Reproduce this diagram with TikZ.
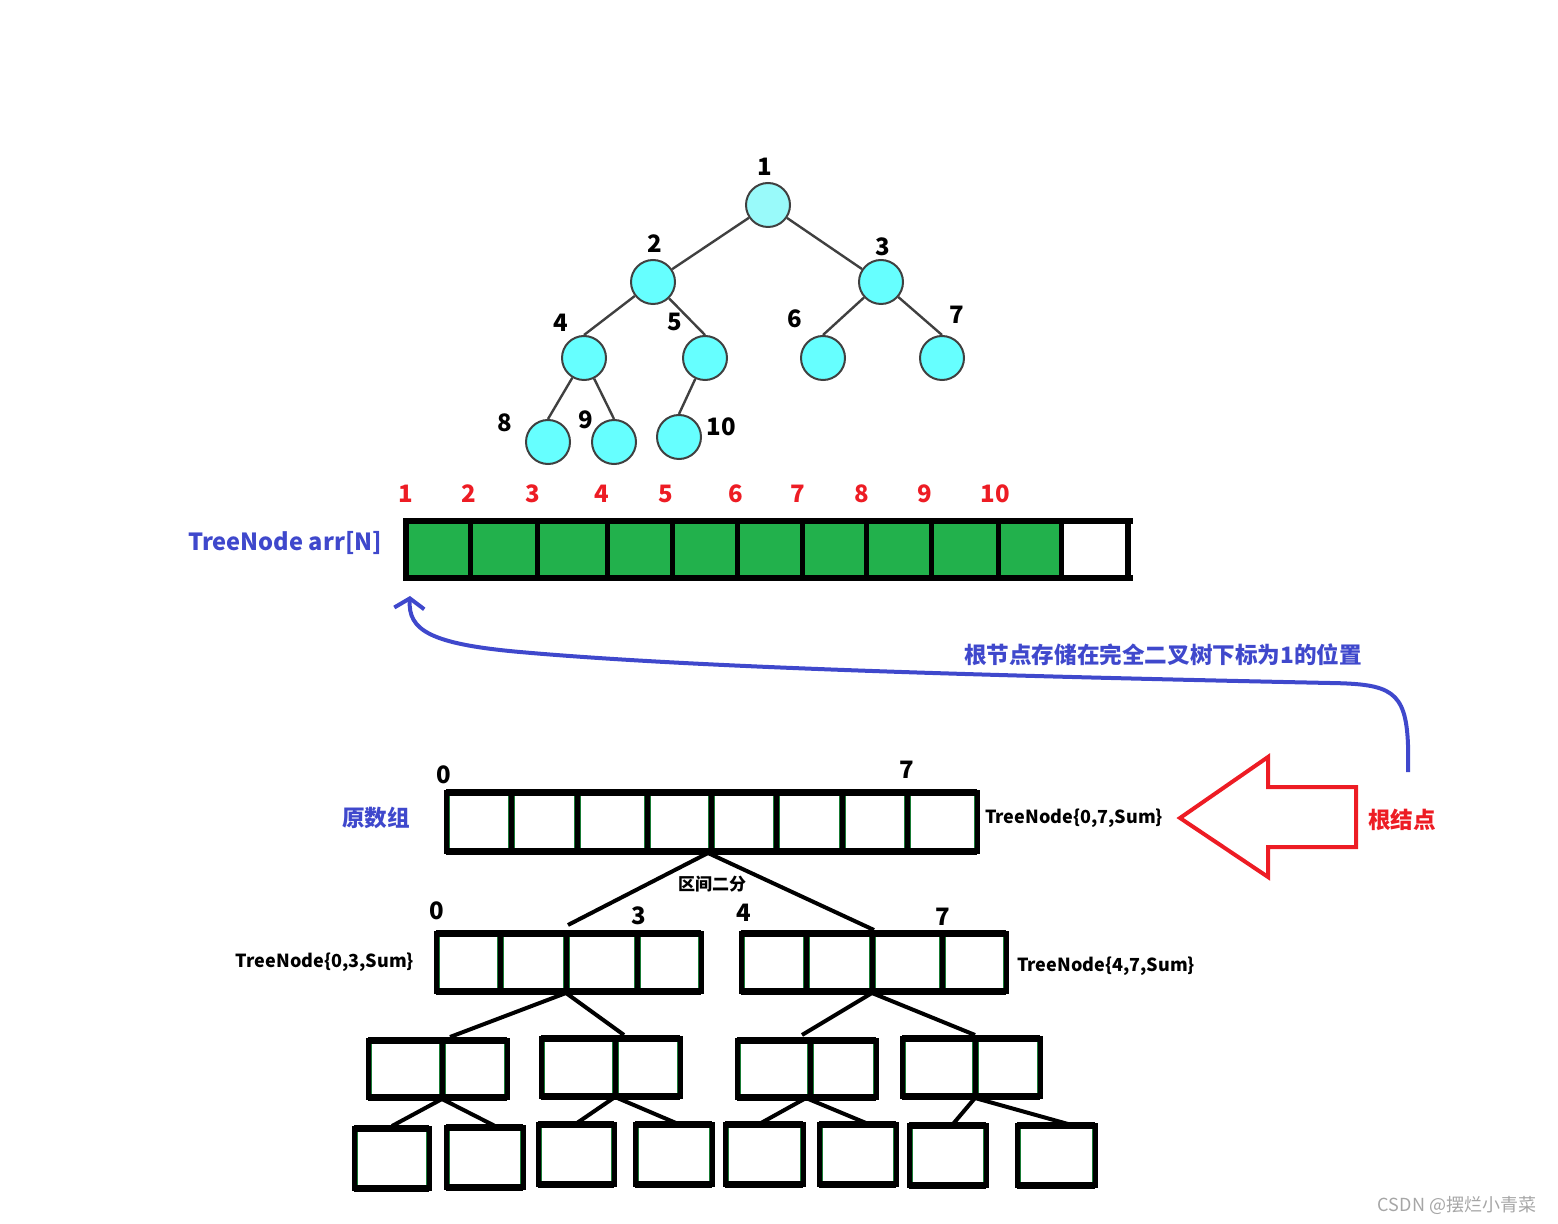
\documentclass[tikz,border=0pt]{standalone}
\usepackage{fontspec}
\setmainfont{Noto Sans CJK SC}
\usetikzlibrary{arrows.meta}
\definecolor{nodecyan}{HTML}{66FFFF}
\definecolor{rootcyan}{HTML}{99FAFA}
\definecolor{cellgreen}{HTML}{22B14C}
\definecolor{idxred}{HTML}{ED1C24}
\definecolor{lblblue}{HTML}{3F48CC}
\definecolor{edgegray}{HTML}{404040}
\tikzset{
	treenode/.style={circle, draw=edgegray, line width=1pt, fill=nodecyan, minimum size=22pt, inner sep=0pt},
	treeedge/.style={draw=edgegray, line width=1.2pt},
	numlbl/.style={font=\bfseries\fontsize{12}{14}\selectfont, inner sep=0pt},
	idx/.style={numlbl, text=idxred},
	bluelbl/.style={font=\bfseries\fontsize{11.3}{13}\selectfont, text=lblblue, inner sep=0pt},
	sumlbl/.style={font=\bfseries\fontsize{9}{11}\selectfont, inner sep=0pt},
	cellline/.style={line width=2.5pt},
	cellinner/.style={draw=cellgreen!70!black, line width=0.5pt},
	splitline/.style={line width=2pt},
}
\begin{document}
\begin{tikzpicture}[x=0.5pt,y=-0.5pt]
	\useasboundingbox (0,0) rectangle (1558,1224);
	% complete binary tree
	\node[treenode, fill=rootcyan] (n1) at (768,205) {};
	\node[treenode] (n2) at (653,282) {};
	\node[treenode] (n3) at (881,282) {};
	\node[treenode] (n4) at (584,358) {};
	\node[treenode] (n5) at (705,358) {};
	\node[treenode] (n6) at (823,358) {};
	\node[treenode] (n7) at (942,358) {};
	\node[treenode] (n8) at (548,442) {};
	\node[treenode] (n9) at (614,442) {};
	\node[treenode] (n10) at (679,437) {};
	\draw[treeedge] (n1) -- (n2);
	\draw[treeedge] (n1) -- (n3);
	\foreach \p/\c in {2/4,2/5,3/6,3/7,4/8,4/9,5/10}
		\draw[treeedge] (n\p) -- (n\c.north);
	\foreach \i/\x/\y in {1/765/167,2/655/244,3/883/247,4/561/323,5/675/322,6/795/319,7/957/315,8/505/423,9/586/420,10/721/427}
		\node[numlbl] (t\i) at (\x,\y) {\i};
	% array storage
	\foreach \a/\b in {406/470,470/537,537/607,607/672,672/737,737/802,802/866,866/931,931/998,998/1061}
		\fill[cellgreen] (\a,521) rectangle (\b,578);
	\draw[line width=3pt] (406,521) rectangle (1128,578);
	\draw[line width=3pt] (1128,521) -- (1133,521) (1128,578) -- (1133,578);
	\foreach \x in {470,537,607,672,737,802,866,931,998,1061}
		\draw[cellline] (\x,521) -- (\x,578);
	\foreach \i/\x in {1/406,2/469,3/533,4/602,5/666,6/736,7/798,8/862,9/925,10/995}
		\node[idx] (i\i) at (\x,494) {\i};
	\node[bluelbl, font=\bfseries\fontsize{11.8}{14}\selectfont] (arr) at (285,543) {TreeNode arr[N]};
	% root goes to index 1
	\coordinate (curvestart) at (1408,772);
	\coordinate (curveend) at (410,596);
	\draw[draw=lblblue, line width=2pt, -{Straight Barb[length=5pt,width=15pt]}] (curvestart) -- (1408,745)
		.. controls (1406,690) and (1390,684) .. (1330,683)
		.. controls (1000,676) and (700,668) .. (520,652)
		.. controls (430,644) and (408,630) .. (curveend);
	\node[bluelbl] (rootpos) at (1163,655) {根节点存储在完全二叉树下标为1的位置};
	% segment tree arrays
	\foreach \a/\b/\t/\u in {446/511/792/851,511/577/792/851,577/647/792/851,647/711/792/851,711/776/792/851,776/842/792/851,842/907/792/851,907/977/792/851,
		436/500/933/991,500/566/933/991,566/637/933/991,637/701/933/991,
		741/806/933/991,806/872/933/991,872/942/933/991,942/1006/933/991,
		368/442/1040/1097,442/507/1040/1097,541/615/1038/1096,615/680/1038/1096,
		737/810/1040/1097,810/876/1040/1097,902/975/1038/1096,975/1040/1038/1096,
		354/429/1128/1188,446/523/1127/1187,538/614/1124/1184,635/712/1124/1184,
		725/803/1124/1184,819/896/1124/1184,909/986/1125/1185,1017/1095/1125/1185}
	{
		\draw[cellinner] ({\a+3},\t) -- ({\a+3},\u) ({\b-3},\t) -- ({\b-3},\u);
		\draw[cellline] (\a,\t) rectangle (\b,\u);
		\draw[line width=3.5pt] (\a,\t) -- (\b,\t) (\a,\u) -- (\b,\u);
	}
	\node[numlbl] (o0) at (444,775) {0};
	\node[numlbl] (o7) at (907,770) {7};
	\node[numlbl] (l0) at (437,911) {0};
	\node[numlbl] (l3) at (639,916) {3};
	\node[numlbl] (r4) at (744,913) {4};
	\node[numlbl] (r7) at (943,917) {7};
	\node[bluelbl] (orig) at (376,818) {原数组};
	\node[sumlbl] (sum07) at (1074,818) {TreeNode\{0,7,Sum\}};
	\node[sumlbl] (sum03) at (325,962) {TreeNode\{0,3,Sum\}};
	\node[sumlbl] (sum47) at (1106,966) {TreeNode\{4,7,Sum\}};
	\node[sumlbl, font=\bfseries\fontsize{8.5}{10}\selectfont] (split) at (712,884) {区间二分};
	% split points
	\coordinate (s0) at (708,853);
	\coordinate (s0l) at (568,925);
	\coordinate (s0r) at (874,930);
	\coordinate (s1) at (566,993);
	\coordinate (s1l) at (450,1037);
	\coordinate (s1r) at (624,1035);
	\coordinate (s2) at (872,993);
	\coordinate (s2l) at (802,1035);
	\coordinate (s2r) at (975,1035);
	\coordinate (s3) at (442,1099);
	\coordinate (s3l) at (392,1126);
	\coordinate (s3r) at (495,1126);
	\coordinate (s4) at (615,1097);
	\coordinate (s4l) at (577,1123);
	\coordinate (s4r) at (676,1123);
	\coordinate (s5) at (806,1098);
	\coordinate (s5l) at (761,1123);
	\coordinate (s5r) at (866,1123);
	\coordinate (s6) at (975,1098);
	\coordinate (s6l) at (953,1124);
	\coordinate (s6r) at (1068,1124);
	\foreach \s in {0,...,6} {
		\draw[splitline] (s\s) -- (s\s l);
		\draw[splitline] (s\s) -- (s\s r);
	}
	% root arrow
	\draw[draw=idxred, line width=2pt, line join=miter] (1180,818) -- (1268,757) -- (1268,787) -- (1356,787)
		-- (1356,847) -- (1268,847) -- (1268,877) -- cycle;
	\node[bluelbl, text=idxred] (rootlbl) at (1402,820) {根结点};
	\node[font=\fontsize{9}{11}\selectfont, text=gray!70, inner sep=0pt] (mark) at (1457,1205) {CSDN @摆烂小青菜};
\end{tikzpicture}
\end{document}
